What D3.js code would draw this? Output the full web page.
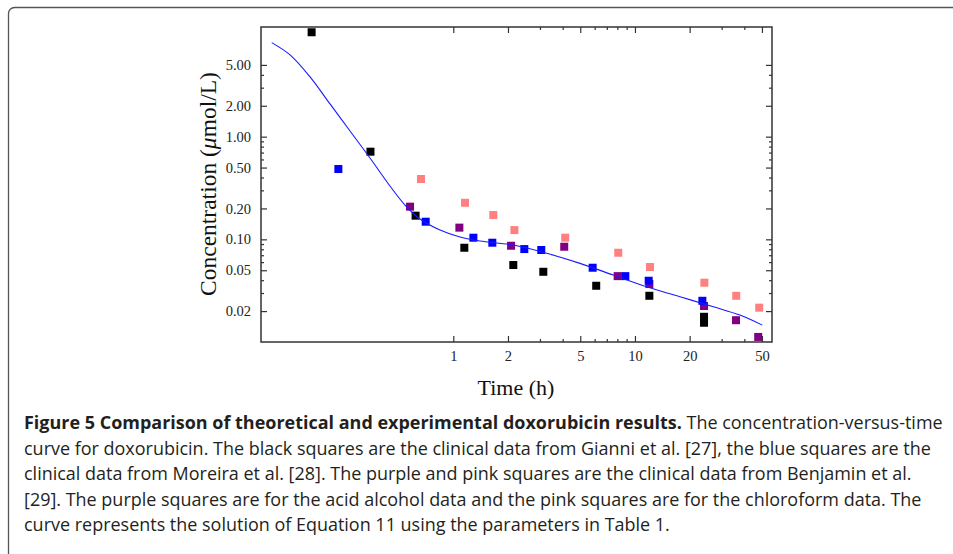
<!DOCTYPE html>
<html>
<head>
<meta charset="utf-8">
<script src="https://cdn.jsdelivr.net/npm/d3@7"></script>
<style>
  body { margin: 0; background: #fff; }
  svg { display: block; }
</style>
</head>
<body>
<svg id="chart" width="953" height="554"></svg>
<script>
// ---- axis ticks ----
const timeMajorTicks = [1, 2, 5, 10, 20, 50];
const timeMinorTicks = [3, 4, 6, 7, 8, 9, 30, 40];
const timeTickLabels = ["1", "2", "5", "10", "20", "50"];
const concMajorTicks = [0.02, 0.05, 0.1, 0.2, 0.5, 1, 2, 5];
const concMinorTicks = [0.03, 0.04, 0.06, 0.07, 0.08, 0.09, 0.3, 0.4, 0.6, 0.7, 0.8, 0.9, 3, 4];
const concTickLabels = ["0.02", "0.05", "0.10", "0.20", "0.50", "1.00", "2.00", "5.00"];

// ---- clinical data (time in h, concentration in µmol/L) ----
// Gianni et al. [27]
const gianniTime = [0.166, 0.35, 0.62, 1.15, 2.14, 3.13, 6.12, 12, 24, 24];
const gianniConc = [10.4, 0.714, 0.170, 0.0828, 0.0562, 0.0483, 0.0353, 0.0282, 0.0176, 0.0154];
// Moreira et al. [28]
const moreiraTime = [0.233, 0.705, 1.29, 1.64, 2.46, 3.05, 5.85, 8.85, 11.9, 23.5];
const moreiraConc = [0.484, 0.1485, 0.1037, 0.0927, 0.0804, 0.0787, 0.0529, 0.0438, 0.0395, 0.0252];
// Benjamin et al. [29], acid alcohol extraction
const acidAlcoholTime = [0.578, 1.08, 2.08, 4.08, 8.03, 12, 24, 36, 47.7];
const acidAlcoholConc = [0.208, 0.130, 0.0866, 0.0847, 0.0438, 0.0367, 0.0224, 0.0163, 0.0112];
// Benjamin et al. [29], chloroform extraction
const chloroformTime = [0.664, 1.16, 1.66, 2.17, 4.13, 8.09, 12.1, 24.1, 36.1, 48.3];
const chloroformConc = [0.387, 0.227, 0.1725, 0.123, 0.1037, 0.074, 0.0537, 0.0378, 0.0282, 0.0216];

// ---- model curve (solution of Equation 11) ----
const modelTime = [0.1001, 0.1263, 0.1627, 0.2096, 0.2701, 0.3479, 0.4482, 0.5421, 0.6558, 0.8449,
                   1.0886, 1.403, 2.14, 3.27, 4.98, 7.60, 11.6, 17.7, 27.0, 37.8, 50.2];
const modelConc = [8.24, 6.256, 3.818, 2.084, 1.136, 0.6199, 0.3308, 0.2159, 0.1577, 0.1232,
                   0.1053, 0.0962, 0.0880, 0.0731, 0.0583, 0.0449, 0.0345, 0.0276, 0.0220, 0.0183, 0.0146];

const xDomain = [0.0874, 56.8];
const yDomain = [0.01, 11.7];

const captionBold = "Figure 5 Comparison of theoretical and experimental doxorubicin results.";
const captionLines = [
  " The concentration-versus-time",
  "curve for doxorubicin. The black squares are the clinical data from Gianni et al. [27], the blue squares are the",
  "clinical data from Moreira et al. [28]. The purple and pink squares are the clinical data from Benjamin et al.",
  "[29]. The purple squares are for the acid alcohol data and the pink squares are for the chloroform data. The",
  "curve represents the solution of Equation 11 using the parameters in Table 1."
];

// ---- layout ----
const svg = d3.select("#chart");
const plot = { left: 261, right: 772, top: 27, bottom: 342 };
const serif = "'Liberation Serif', 'Times New Roman', serif";
const sans = "'Open Sans', 'Noto Sans', sans-serif";

svg.append("rect").attr("width", 953).attr("height", 554).attr("fill", "#fff");

// figure panel border (rounded, continues past the page edge)
svg.append("path")
  .attr("d", "M8.5,560 L8.5,13.5 A6,6 0 0 1 14.5,7.5 L960,7.5")
  .attr("fill", "none").attr("stroke", "#555").attr("stroke-width", 1.3);

const x = d3.scaleLog().domain(xDomain).range([plot.left, plot.right]);
const y = d3.scaleLog().domain(yDomain).range([plot.bottom, plot.top]);

const tickColor = "#333";
function styleAxis(g) {
  g.select(".domain").remove();
  g.selectAll(".tick line").attr("stroke", tickColor).attr("stroke-width", 1.2);
  g.selectAll(".tick text").attr("fill", "#222").attr("font-family", serif).attr("font-size", 14.5);
}

// bottom axis: major with labels, minor without
svg.append("g").attr("transform", `translate(0,${plot.bottom})`)
  .call(d3.axisBottom(x).tickValues(timeMajorTicks).tickSize(-6).tickPadding(9)
        .tickFormat((d, i) => timeTickLabels[i]))
  .call(styleAxis);
svg.append("g").attr("transform", `translate(0,${plot.bottom})`)
  .call(d3.axisBottom(x).tickValues(timeMinorTicks).tickSize(-3).tickFormat(""))
  .call(styleAxis);
// top axis
svg.append("g").attr("transform", `translate(0,${plot.top})`)
  .call(d3.axisTop(x).tickValues(timeMajorTicks).tickSize(-6).tickFormat(""))
  .call(styleAxis);
svg.append("g").attr("transform", `translate(0,${plot.top})`)
  .call(d3.axisTop(x).tickValues(timeMinorTicks).tickSize(-3).tickFormat(""))
  .call(styleAxis);
// left axis
svg.append("g").attr("transform", `translate(${plot.left},0)`)
  .call(d3.axisLeft(y).tickValues(concMajorTicks).tickSize(-6).tickPadding(10)
        .tickFormat((d, i) => concTickLabels[i]))
  .call(styleAxis);
svg.append("g").attr("transform", `translate(${plot.left},0)`)
  .call(d3.axisLeft(y).tickValues(concMinorTicks).tickSize(-3).tickFormat(""))
  .call(styleAxis);
// right axis
svg.append("g").attr("transform", `translate(${plot.right},0)`)
  .call(d3.axisRight(y).tickValues(concMajorTicks).tickSize(-6).tickFormat(""))
  .call(styleAxis);
svg.append("g").attr("transform", `translate(${plot.right},0)`)
  .call(d3.axisRight(y).tickValues(concMinorTicks).tickSize(-3).tickFormat(""))
  .call(styleAxis);

// plot frame
svg.append("rect")
  .attr("x", plot.left).attr("y", plot.top)
  .attr("width", plot.right - plot.left).attr("height", plot.bottom - plot.top)
  .attr("fill", "none").attr("stroke", tickColor).attr("stroke-width", 1.5);

// ---- markers ----
const side = 8;
const series = [
  { t: chloroformTime, c: chloroformConc, color: "#ff8080" },
  { t: acidAlcoholTime, c: acidAlcoholConc, color: "#800080" },
  { t: gianniTime, c: gianniConc, color: "#000000" },
  { t: moreiraTime, c: moreiraConc, color: "#0000ff" }
];
series.forEach(s => {
  svg.append("g").selectAll("rect")
    .data(s.t.map((t, i) => [t, s.c[i]]))
    .join("rect")
    .attr("x", d => x(d[0]) - side / 2)
    .attr("y", d => y(d[1]) - side / 2)
    .attr("width", side).attr("height", side)
    .attr("fill", s.color);
});

// ---- model curve ----
const line = d3.line().x(d => x(d[0])).y(d => y(d[1])).curve(d3.curveCatmullRom.alpha(0.5));
svg.append("path")
  .datum(modelTime.map((t, i) => [t, modelConc[i]]))
  .attr("d", line)
  .attr("fill", "none").attr("stroke", "#1a1aff").attr("stroke-width", 1.1);

// ---- axis titles ----
svg.append("text")
  .attr("x", 516).attr("y", 395)
  .attr("text-anchor", "middle")
  .attr("font-family", serif).attr("font-size", 22).attr("fill", "#111")
  .text("Time (h)");

const yTitle = svg.append("text")
  .attr("transform", "translate(216,184) rotate(-90)")
  .attr("text-anchor", "middle")
  .attr("font-family", serif).attr("font-size", 23.5).attr("fill", "#111");
yTitle.append("tspan").text("Concentration (");
yTitle.append("tspan").attr("font-style", "italic").text("μ");
yTitle.append("tspan").text("mol/L)");

// ---- caption ----
const capX = 24, capY0 = 429, capStep = 25.5;
const cap = svg.append("g").attr("font-family", sans).attr("fill", "#231f20");
const t0 = cap.append("text").attr("x", capX).attr("y", capY0);
t0.append("tspan").attr("font-weight", "bold").text(captionBold);
t0.append("tspan").text(captionLines[0]);
for (let i = 1; i < captionLines.length; i++) {
  cap.append("text").attr("x", capX).attr("y", capY0 + i * capStep).text(captionLines[i]);
}
// size the caption so the widest running line spans the panel text width
cap.attr("font-size", 16);
const probe = cap.selectAll("text").filter((d, i) => i === 1).node();
const w = probe.getComputedTextLength();
cap.attr("font-size", 16 * 907 / w);
</script>
</body>
</html>
